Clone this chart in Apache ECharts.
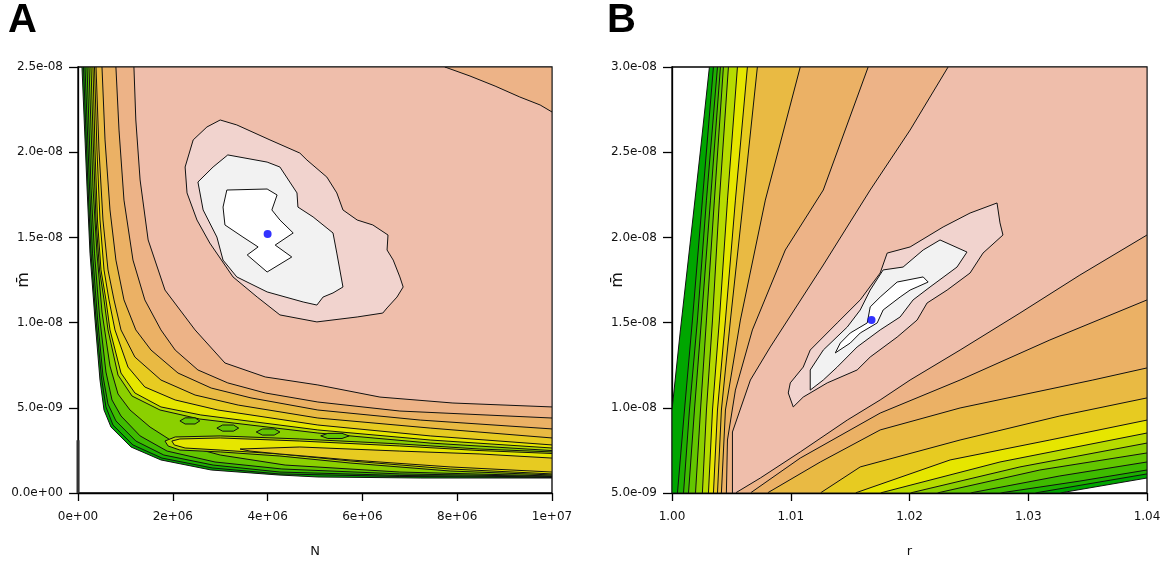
<!DOCTYPE html>
<html><head><meta charset="utf-8">
<script src="https://cdn.jsdelivr.net/npm/echarts@6/dist/echarts.min.js"></script>
<style>html,body{margin:0;padding:0;background:#fff}#c{width:1165px;height:561px}</style>
</head><body><div id="c"></div>
<script>
// Units: panel A x in 1e6 (N), y in 1e-9 (mu); panel B x = r, y in 1e-9 (mu)
const XS_A = 1e6, XS_B = 1, YS = 1e-9;
const PALETTE = ['#00A600','#1DB000','#3EBB00','#63C600','#8BD000','#B6DB00','#E6E600','#E7CB21','#E9BA43','#EBB165','#EDB387','#EFBEAB','#F1D3CE','#F2F2F2','#FFFFFF'];

const xTicksA = ['0e+00','2e+06','4e+06','6e+06','8e+06','1e+07'];
const yTicksA = ['0.0e+00','5.0e-09','1.0e-08','1.5e-08','2.0e-08','2.5e-08'];
const xTicksB = ['1.00','1.01','1.02','1.03','1.04'];
const yTicksB = ['5.0e-09','1.0e-08','1.5e-08','2.0e-08','2.5e-08','3.0e-08'];

// best estimates (blue dots)
const bestA = [4.0, 15.2];
const bestB = [1.0168, 15.15];

// ---------- Panel A contour lines (top edge -> right edge) ----------
const A_W  = [[0.084,25],[0.19,17.96],[0.253,14.08],[0.359,10.15],[0.464,6.63],[0.549,4.87],[0.696,3.87],[1.118,2.70],[1.75,1.94],[2.81,1.35],[4.22,1.06],[5.06,0.94],[7.22,0.88],[10,0.88]];
const A_L1 = [[0.116,25],[0.211,17.96],[0.274,14.08],[0.38,10.21],[0.496,6.75],[0.59,5.05],[0.738,3.99],[1.16,2.82],[1.77,2.05],[2.83,1.47],[4.24,1.12],[6.79,0.97],[10,0.91]];
const A_L2 = [[0.148,25],[0.243,17.96],[0.306,14.08],[0.411,10.27],[0.527,6.87],[0.633,5.22],[0.80,4.23],[1.22,3.05],[1.81,2.23],[2.85,1.64],[4.26,1.23],[6.79,1.03],[10,0.94]];
const A_L3 = [[0.19,25],[0.274,17.96],[0.348,14.08],[0.454,10.39],[0.59,7.10],[0.717,5.46],[0.907,4.52],[1.31,3.35],[1.88,2.46],[2.89,1.82],[4.30,1.41],[6.79,1.12],[10,0.97]];
const A_L4 = [[0.232,25],[0.316,17.96],[0.40,14.08],[0.506,10.62],[0.675,7.45],[0.844,5.81],[1.097,4.87],[1.52,3.87],[2.05,2.93],[3.0,2.23],[4.37,1.64],[6.79,1.23],[10,1.0]];
const A_U5 = [[0.274,25],[0.327,20.13],[0.38,16.02],[0.454,13.09],[0.549,11.33],[0.633,9.57],[0.844,6.92],[1.14,5.69],[1.73,4.87],[2.57,4.34],[5.06,3.52],[7.43,2.93],[10,2.49]];
const A_U6 = [[0.316,25],[0.359,20.13],[0.411,16.02],[0.485,13.09],[0.59,11.33],[0.675,9.57],[0.907,7.04],[1.20,5.87],[1.75,5.05],[2.59,4.58],[5.06,3.70],[7.43,3.11],[10,2.64]];
const A_U7 = [[0.348,25],[0.40,20.13],[0.464,16.02],[0.549,13.09],[0.654,11.33],[0.78,9.57],[1.055,7.39],[1.41,6.22],[2.05,5.46],[2.95,4.87],[5.06,3.99],[7.43,3.35],[10,2.82]];
const A_U8 = [[0.38,25],[0.443,20.13],[0.527,16.02],[0.633,13.09],[0.76,11.33],[0.907,9.57],[1.20,7.98],[1.75,6.63],[2.47,5.75],[3.38,5.16],[5.06,4.40],[7.43,3.81],[10,3.23]];
const A_U9 = [[0.506,25],[0.57,20.72],[0.675,16.61],[0.80,13.67],[0.97,11.33],[1.22,9.57],[1.54,8.39],[2.11,7.04],[2.81,6.16],[3.65,5.58],[5.06,4.87],[7.22,4.28],[10,3.76]];
const A_U10 = [[0.80,25],[0.865,21.3],[0.97,17.19],[1.16,13.67],[1.41,11.33],[1.75,9.57],[2.05,8.39],[2.53,7.22],[3.16,6.46],[3.95,5.87],[5.06,5.34],[6.79,4.81],[10,4.40]];
const A_U11 = [[1.18,25],[1.22,21.89],[1.31,18.37],[1.48,14.85],[1.835,11.91],[2.47,9.57],[3.10,7.63],[3.95,6.81],[5.06,6.34],[6.37,5.63],[7.91,5.28],[10,5.05]];
const A_TOPRIGHT = [[7.74,25],[8.27,24.47],[8.80,23.88],[9.32,23.24],[9.75,22.77],[10,22.36]];
// closed contours
const A_ISL1 = [[2.15,4.23],[2.26,4.41],[2.47,4.41],[2.57,4.23],[2.47,4.05],[2.26,4.05]];
const A_ISL2 = [[2.93,3.81],[3.05,3.99],[3.28,3.99],[3.39,3.81],[3.28,3.63],[3.05,3.63]];
const A_ISL3 = [[3.76,3.58],[3.89,3.76],[4.14,3.76],[4.26,3.58],[4.14,3.40],[3.89,3.40]];
const A_ISL4 = [[5.12,3.35],[5.27,3.50],[5.57,3.50],[5.72,3.35],[5.57,3.20],[5.27,3.20]];
const A_TONGUE5 = [[1.835,3.05],[2.05,3.29],[3.0,3.35],[4.68,3.17],[6.79,2.88],[8.48,2.58],[10,2.41],[10,1.06],[7.85,1.29],[5.74,1.76],[4.26,2.17],[3.0,2.41],[2.15,2.52],[1.90,2.76]];
const A_TONGUE6 = [[1.98,3.05],[2.15,3.17],[3.0,3.23],[4.68,3.05],[6.79,2.76],[8.48,2.49],[10,2.32],[10,1.12],[7.85,1.41],[5.74,1.88],[4.26,2.29],[3.0,2.52],[2.26,2.64],[2.03,2.82]];
const A_TONGUE7 = [[3.42,2.58],[4.68,2.70],[6.79,2.46],[8.48,2.29],[10,2.05],[10,1.23],[7.85,1.53],[5.74,1.94],[4.26,2.29],[3.63,2.46]];
const A_PINK = [[3.0,21.89],[3.35,21.6],[4.05,20.72],[4.68,19.95],[4.83,19.54],[5.25,18.54],[5.46,17.61],[5.59,16.61],[5.89,16.02],[6.22,15.73],[6.54,15.14],[6.52,14.26],[6.65,13.67],[6.79,12.68],[6.86,12.09],[6.73,11.50],[6.52,10.86],[6.43,10.56],[5.89,10.33],[5.04,10.04],[4.26,10.45],[3.78,11.50],[3.27,12.68],[2.78,14.67],[2.51,16.02],[2.30,17.61],[2.26,19.13],[2.43,20.72],[2.72,21.48]];
const A_GREY = [[3.16,19.84],[3.99,19.42],[4.26,19.13],[4.62,17.61],[4.64,16.78],[4.96,16.20],[5.38,15.26],[5.46,14.08],[5.59,12.09],[5.38,11.74],[5.17,11.50],[5.04,11.03],[4.75,11.21],[3.99,11.80],[3.35,12.68],[3.06,13.67],[2.93,15.02],[2.64,16.61],[2.53,18.25],[2.85,19.13]];
const A_WHITE = [[3.14,17.78],[3.99,17.84],[4.20,17.49],[4.09,16.61],[4.26,16.02],[4.54,15.26],[4.16,14.55],[4.51,13.85],[3.99,12.97],[3.57,13.97],[3.80,14.44],[3.48,15.02],[3.10,15.73],[3.06,16.78]];
const A_RUG = [[0,0],[0,3.1]];

// ---------- Panel B contour lines ----------
// upper-left family (bottom/left edge -> top edge)
const B_P0  = [[1.0,5],[1.0,9.87],[1.00071,14.57],[1.00156,19.85],[1.0024,25.13],[1.00315,30]];
const B_P1  = [[1.00046,5],[1.00105,9.87],[1.00172,15.15],[1.00256,22.19],[1.00349,30]];
const B_P2  = [[1.00097,5],[1.00147,9.87],[1.00214,15.15],[1.0029,22.19],[1.00383,30]];
const B_P3  = [[1.00139,5],[1.00189,9.87],[1.00248,15.15],[1.00324,22.19],[1.00408,30]];
const B_P4  = [[1.00198,5],[1.0024,9.87],[1.0029,15.15],[1.00357,22.19],[1.00433,30]];
const B_P5  = [[1.00256,5],[1.0029,9.87],[1.00341,15.15],[1.00399,22.19],[1.00475,30]];
const B_P6  = [[1.00307,5],[1.00341,9.87],[1.00399,15.15],[1.00467,22.19],[1.00551,30]];
const B_P7  = [[1.00349,5],[1.00383,9.87],[1.0045,15.15],[1.00534,22.19],[1.00635,30]];
const B_P8  = [[1.00383,5],[1.00416,9.87],[1.00492,15.15],[1.00601,22.19],[1.00719,30]];
const B_P9  = [[1.00416,5],[1.0045,9.87],[1.00576,15.15],[1.00786,22.19],[1.0108,30]];
const B_P10 = [[1.00458,5],[1.00467,8.11],[1.00534,11.04],[1.00677,14.57],[1.00954,19.26],[1.01274,22.78],[1.01652,30]];
const B_P11 = [[1.00509,5],[1.00509,8.58],[1.0066,11.63],[1.00828,13.57],[1.01274,18.38],[1.01669,22.78],[1.02005,26.30],[1.02325,30]];
// lower-right family (bottom edge -> right edge)
const B_R0  = [[1.03266,5],[1.04,5.88]];
const B_R1  = [[1.03056,5],[1.04,6.12]];
const B_R2  = [[1.02762,5],[1.03435,5.70],[1.04,6.35]];
const B_R3  = [[1.0251,5],[1.03266,6.00],[1.04,6.82]];
const B_R4  = [[1.02232,5],[1.03098,6.35],[1.04,7.35]];
const B_R5  = [[1.02005,5],[1.0293,6.53],[1.04,7.93]];
const B_R6  = [[1.01753,5],[1.02762,6.82],[1.04,8.52]];
const B_R7  = [[1.01543,5],[1.02342,6.94],[1.03182,8.11],[1.04,9.28]];
const B_R8  = [[1.01249,5],[1.01585,6.53],[1.02426,8.11],[1.03266,9.52],[1.04,10.58]];
const B_R9  = [[1.00803,5],[1.01249,6.82],[1.01753,8.70],[1.02426,9.99],[1.03544,11.63],[1.04,12.34]];
const B_R10 = [[1.00660,5],[1.0108,7.05],[1.01753,9.69],[1.02426,11.63],[1.03182,13.98],[1.04,16.33]];
const B_R11 = [[1.00534,5],[1.00744,5.88],[1.0108,7.41],[1.01476,9.28],[1.01753,10.46],[1.02005,11.63],[1.02426,13.39],[1.0293,15.56],[1.03435,17.79],[1.04,20.14]];
const B_PINK = [[1.02737,22.02],[1.02762,20.85],[1.02787,20.14],[1.02619,19.08],[1.0251,17.91],[1.02317,16.91],[1.02148,16.15],[1.02064,15.15],[1.01896,14.15],[1.01669,12.98],[1.01559,12.22],[1.01307,11.46],[1.01105,10.63],[1.01021,10.05],[1.00979,10.87],[1.00996,11.46],[1.01105,12.39],[1.01164,13.39],[1.01391,14.98],[1.01585,16.33],[1.01753,17.91],[1.01812,19.08],[1.02005,19.44],[1.02283,20.61],[1.0251,21.43]];
const B_GREY = [[1.02257,19.85],[1.02484,19.14],[1.024,18.26],[1.02173,17.09],[1.0203,16.33],[1.01921,15.33],[1.01753,14.57],[1.01559,13.57],[1.01391,12.39],[1.01274,11.63],[1.01164,11.04],[1.01164,12.22],[1.01274,13.39],[1.01476,14.74],[1.01585,15.74],[1.01669,16.91],[1.01778,18.09],[1.01946,18.26],[1.02115,19.26]];
const B_WHITE = [[1.01896,17.38],[1.02115,17.68],[1.02157,17.38],[1.02064,17.09],[1.02005,16.91],[1.01921,16.50],[1.01778,15.74],[1.01728,14.98],[1.01585,14.39],[1.01501,13.80],[1.01375,13.22],[1.01417,13.80],[1.01501,14.39],[1.01644,14.98],[1.01669,15.92],[1.01753,16.50]];

// ---------- layer assembly ----------
const closeA = pts => pts.concat([[10,25]]);
const bandB = (P, R) => P.concat([[1.04,30]], R.slice().reverse());

const layersA = [
  {pts: closeA(A_W), level: 0}, {pts: closeA(A_L1), level: 1}, {pts: closeA(A_L2), level: 2},
  {pts: closeA(A_L3), level: 3}, {pts: closeA(A_L4), level: 4}, {pts: closeA(A_U5), level: 5},
  {pts: closeA(A_U6), level: 6}, {pts: closeA(A_U7), level: 7}, {pts: closeA(A_U8), level: 8},
  {pts: closeA(A_U9), level: 9}, {pts: closeA(A_U10), level: 10}, {pts: closeA(A_U11), level: 11},
  {pts: closeA(A_TOPRIGHT), level: 10},
  {pts: A_ISL1, level: 3}, {pts: A_ISL2, level: 3}, {pts: A_ISL3, level: 3}, {pts: A_ISL4, level: 3},
  {pts: A_TONGUE5, level: 5}, {pts: A_TONGUE6, level: 6}, {pts: A_TONGUE7, level: 7},
  {pts: A_PINK, level: 12}, {pts: A_GREY, level: 13}, {pts: A_WHITE, level: 14}
];
const BP = [B_P0,B_P1,B_P2,B_P3,B_P4,B_P5,B_P6,B_P7,B_P8,B_P9,B_P10,B_P11];
const BR = [B_R0,B_R1,B_R2,B_R3,B_R4,B_R5,B_R6,B_R7,B_R8,B_R9,B_R10,B_R11];
const layersB = BP.map((P, i) => ({pts: bandB(P, BR[i]), level: i}))
  .concat([{pts: B_PINK, level: 12}, {pts: B_GREY, level: 13}, {pts: B_WHITE, level: 14}]);

function contourSeries(layers, xs, ys, idx) {
  return {
    type: 'custom', xAxisIndex: idx, yAxisIndex: idx, clip: true, silent: true, z: 1,
    data: layers.map(l => [l.pts[0][0] * xs, l.pts[0][1] * ys]),
    renderItem: function (params, api) {
      const L = layers[params.dataIndex];
      const pts = L.pts.map(p => api.coord([p[0] * xs, p[1] * ys]));
      return {type: 'polygon', shape: {points: pts},
        style: {fill: PALETTE[L.level], stroke: '#111', lineWidth: 1}};
    }
  };
}

const labelStyle = {fontSize: 12, color: '#111', fontFamily: 'DejaVu Sans'};
const lineStyle = {color: '#000', width: 1.3};
function xAxis(idx, min, max, interval, labels, name) {
  return {gridIndex: idx, type: 'value', min, max, interval,
    axisLine: {show: true, onZero: false, lineStyle}, axisTick: {show: true, length: 8, lineStyle},
    axisLabel: {margin: 18, showMinLabel: true, showMaxLabel: true, ...labelStyle,
      formatter: v => labels[Math.round((v - min) / interval)]},
    splitLine: {show: false}, name, nameLocation: 'middle', nameGap: 52, nameMoveOverlap: false,
    nameTextStyle: {fontSize: 13, color: '#111', fontFamily: 'DejaVu Sans'}};
}
function yAxis(idx, min, max, interval, labels) {
  return {gridIndex: idx, type: 'value', min, max, interval,
    axisLine: {show: true, onZero: false, lineStyle}, axisTick: {show: true, length: 9, lineStyle},
    axisLabel: {margin: 15, showMinLabel: true, showMaxLabel: true, ...labelStyle,
      formatter: v => labels[Math.round((v - min) / interval)]},
    splitLine: {show: false}, name: 'm\u0304', nameLocation: 'middle', nameGap: 46, nameRotate: 90,
    nameMoveOverlap: false,
    nameTextStyle: {fontSize: 16, color: '#111', fontFamily: 'DejaVu Sans'}};
}

const chart = echarts.init(document.getElementById('c'), null, {renderer: 'canvas'});
chart.setOption({
  animation: false,
  backgroundColor: '#fff',
  title: [
    {text: 'A', left: 8, top: 1, padding: 0, textStyle: {fontSize: 40, fontWeight: 'bold', fontFamily: 'Liberation Sans', color: '#000'}},
    {text: 'B', left: 607, top: 1, padding: 0, textStyle: {fontSize: 40, fontWeight: 'bold', fontFamily: 'Liberation Sans', color: '#000'}}
  ],
  grid: [
    {left: 78, top: 67, width: 474, height: 426, show: true, borderColor: '#000', borderWidth: 1.3, backgroundColor: 'transparent', outerBoundsMode: 'none', containLabel: false},
    {left: 672, top: 67, width: 475, height: 426, show: true, borderColor: '#000', borderWidth: 1.3, backgroundColor: 'transparent', outerBoundsMode: 'none', containLabel: false}
  ],
  xAxis: [xAxis(0, 0, 1e7, 2e6, xTicksA, 'N'), xAxis(1, 1.0, 1.04, 0.01, xTicksB, 'r')],
  yAxis: [yAxis(0, 0, 2.5e-8, 5e-9, yTicksA), yAxis(1, 5e-9, 3e-8, 5e-9, yTicksB)],
  series: [
    contourSeries(layersA, XS_A, YS, 0),
    contourSeries(layersB, XS_B, YS, 1),
    {type: 'line', xAxisIndex: 0, yAxisIndex: 0, data: A_RUG.map(p => [p[0] * XS_A, p[1] * YS]),
      symbol: 'none', lineStyle: {color: '#333', width: 3}, z: 5, silent: true},
    {type: 'scatter', xAxisIndex: 0, yAxisIndex: 0, data: [[bestA[0] * XS_A, bestA[1] * YS]],
      symbolSize: 8, itemStyle: {color: '#0000FF'}, z: 6, silent: true},
    {type: 'scatter', xAxisIndex: 1, yAxisIndex: 1, data: [[bestB[0] * XS_B, bestB[1] * YS]],
      symbolSize: 8, itemStyle: {color: '#0000FF'}, z: 6, silent: true}
  ]
});
</script></body></html>
